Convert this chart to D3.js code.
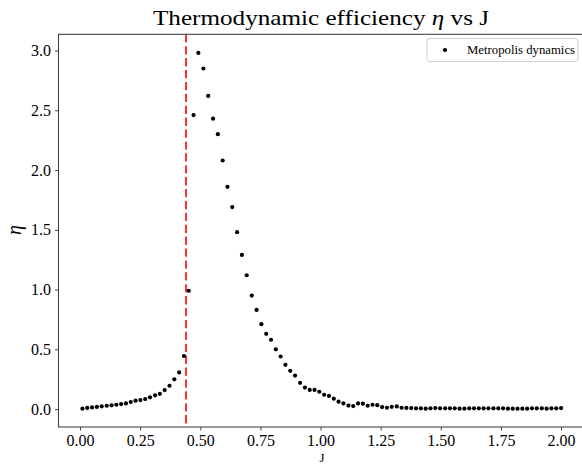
<!DOCTYPE html>
<html><head><meta charset="utf-8">
<script src="https://cdn.jsdelivr.net/npm/d3@7"></script>
<style>
html,body{margin:0;padding:0;background:#fff;overflow:hidden}
svg{display:block}
text{font-family:"Liberation Serif","DejaVu Serif",serif;fill:#000}
</style></head>
<body>
<svg id="chart" width="582" height="465"></svg>
<script>
const titleText = "Thermodynamic efficiency ";
const legendLabel = "Metropolis dynamics";
const Jc = 0.4407;
const xTicks = [0, 0.25, 0.5, 0.75, 1.0, 1.25, 1.5, 1.75, 2.0];
const yTicks = [0, 0.5, 1.0, 1.5, 2.0, 2.5, 3.0];
const J = [0.010,0.030,0.050,0.070,0.090,0.111,0.131,0.151,0.171,0.191,
0.211,0.231,0.251,0.271,0.291,0.312,0.332,0.352,0.372,0.392,
0.412,0.432,0.452,0.472,0.492,0.513,0.533,0.553,0.573,0.593,
0.613,0.633,0.653,0.673,0.693,0.714,0.734,0.754,0.774,0.794,
0.814,0.834,0.854,0.874,0.894,0.915,0.935,0.955,0.975,0.995,
1.015,1.035,1.055,1.075,1.095,1.116,1.136,1.156,1.176,1.196,
1.216,1.236,1.256,1.276,1.296,1.317,1.337,1.357,1.377,1.397,
1.417,1.437,1.457,1.477,1.497,1.518,1.538,1.558,1.578,1.598,
1.618,1.638,1.658,1.678,1.698,1.719,1.739,1.759,1.779,1.799,
1.819,1.839,1.859,1.879,1.899,1.920,1.940,1.960,1.980,2.000];
const eta = [0.003,0.010,0.014,0.018,0.023,0.028,0.031,0.036,0.042,0.047,
0.059,0.070,0.075,0.084,0.098,0.115,0.128,0.159,0.195,0.249,
0.307,0.444,0.99,2.46,2.98,2.85,2.62,2.43,2.30,2.08,
1.86,1.69,1.48,1.29,1.12,0.95,0.83,0.71,0.63,0.58,
0.50,0.44,0.37,0.32,0.28,0.22,0.18,0.16,0.16,0.145,
0.12,0.11,0.087,0.062,0.047,0.029,0.025,0.047,0.045,0.028,
0.036,0.033,0.017,0.011,0.019,0.022,0.011,0.010,0.008,0.006,
0.006,0.003,0.006,0.008,0.006,0.006,0.006,0.006,0.003,0.003,
0.006,0.006,0.006,0.006,0.006,0.006,0.006,0.006,0.003,0.003,
0.003,0.003,0.003,0.006,0.006,0.006,0.003,0.006,0.006,0.008];

const svg = d3.select("#chart");
const L = 58.5, R = 585, T = 34.3, B = 427;
const x = d3.scaleLinear().domain([-0.0895, 2.0995]).range([L, R]);
const y = d3.scaleLinear().domain([-0.15, 3.136]).range([B, T]);

// red dashed critical line
svg.append("line").attr("x1", x(Jc)).attr("x2", x(Jc)).attr("y1", T).attr("y2", B)
  .attr("stroke", "#ff0000").attr("stroke-width", 1.6).attr("stroke-dasharray", "8.3,3.6");

// points
svg.append("g").selectAll("circle").data(J).join("circle")
  .attr("cx", d => x(d)).attr("cy", (d, i) => y(eta[i])).attr("r", 2.1).attr("fill", "#000");

// axes
const xa = svg.append("g").attr("transform", `translate(0,${B})`)
  .call(d3.axisBottom(x).tickValues(xTicks).tickFormat(d3.format(".2f")).tickSize(3.5).tickPadding(3));
const ya = svg.append("g").attr("transform", `translate(${L},0)`)
  .call(d3.axisLeft(y).tickValues(yTicks).tickFormat(d3.format(".1f")).tickSize(3.5).tickPadding(4));
[xa, ya].forEach(a => {
  a.select(".domain").remove();
  a.selectAll(".tick line").attr("stroke", "#333").attr("stroke-width", 0.9);
  a.selectAll("text").style("font-family", '"Liberation Serif", serif').style("font-size", "16px").attr("fill", "#000");
});
xa.selectAll("text").attr("dy", "0.8em");

// spines
svg.append("rect").attr("x", L).attr("y", T).attr("width", R - L).attr("height", B - T)
  .attr("fill", "none").attr("stroke", "#444").attr("stroke-width", 1.1);

// title
const t = svg.append("text").attr("x", 321).attr("y", 25).attr("text-anchor", "middle")
  .attr("textLength", 336).attr("lengthAdjust", "spacingAndGlyphs")
  .style("font-size", "22px");
t.append("tspan").text(titleText);
t.append("tspan").style("font-style", "italic").text("η");
t.append("tspan").text(" vs J");

// axis labels
svg.append("text").attr("x", 322).attr("y", 462).attr("text-anchor", "middle")
  .style("font-size", "13px").text("J");
svg.append("text").attr("transform", "translate(21,230) rotate(-90)").attr("text-anchor", "middle")
  .style("font-size", "20px").style("font-style", "italic").text("η");

// legend
const lg = svg.append("g");
lg.append("rect").attr("x", 427).attr("y", 38.5).attr("width", 151).attr("height", 23).attr("rx", 3)
  .attr("fill", "#fff").attr("fill-opacity", 0.8).attr("stroke", "#d0d0d0").attr("stroke-width", 1);
lg.append("circle").attr("cx", 445).attr("cy", 50).attr("r", 2.1).attr("fill", "#000");
lg.append("text").attr("x", 467).attr("y", 54).style("font-size", "12.5px")
  .attr("textLength", 108).attr("lengthAdjust", "spacingAndGlyphs").text(legendLabel);
</script>
</body></html>
